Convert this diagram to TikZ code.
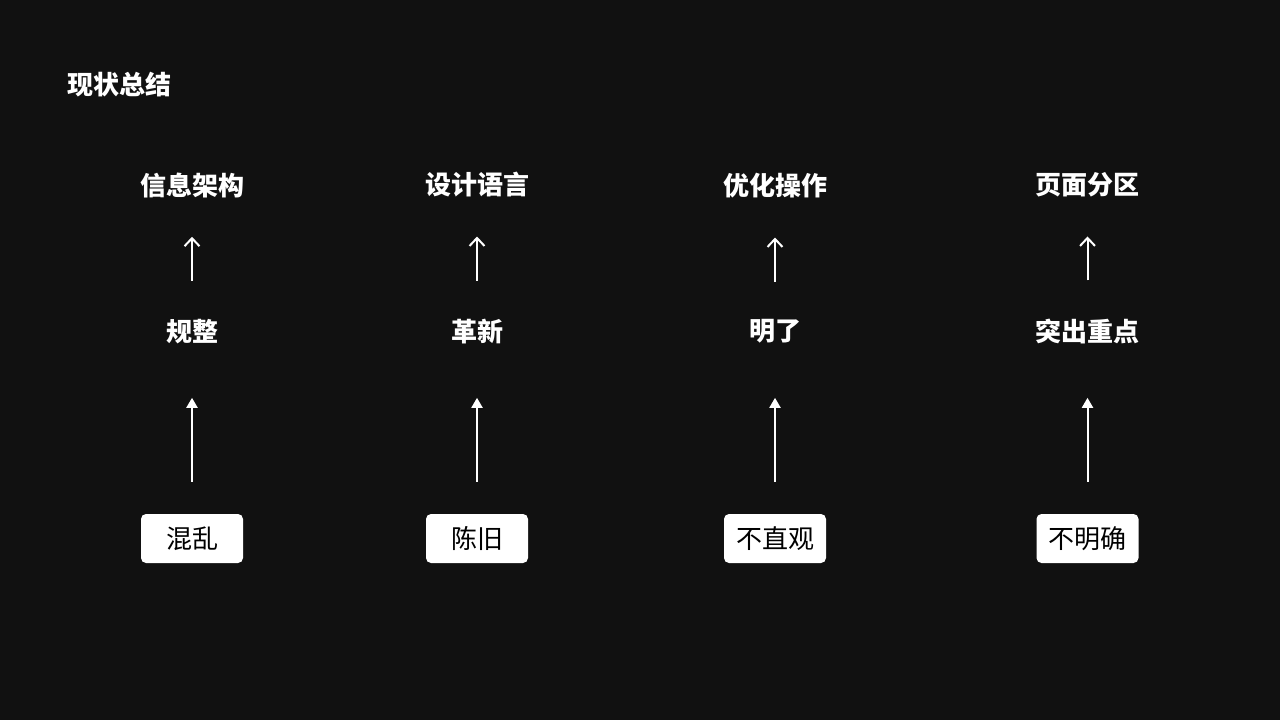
\documentclass[tikz,border=0pt]{standalone}
\usepackage{fontspec}
\setmainfont{Noto Sans CJK SC}
\usepackage{tikz}
\usetikzlibrary{arrows.meta, positioning}
\definecolor{bgdark}{HTML}{111111}

\begin{document}
\begin{tikzpicture}[x=1pt, y=-1pt,
    node distance=170pt,
    every node/.style={inner sep=0pt, text=white, font=\fontsize{26}{31}\selectfont},
    goal/.style={font=\fontsize{26}{31}\selectfont\bfseries},
    quality/.style={font=\fontsize{26}{31}\selectfont\bfseries},
    problem/.style={fill=white, text=black, rounded corners=5pt, minimum width=102pt, minimum height=49pt},
    liftarrow/.style={draw=white, line width=2pt, -{Triangle[width=11pt, length=10pt]}, shorten <=32pt, shorten >=54pt},
    aimarrow/.style={draw=white, line width=2pt, -{Straight Barb[width=15pt, length=8pt]}, shorten <=38pt, shorten >=39pt}
    ]

    \fill [bgdark] (0,0) rectangle (1280,720);
    \node (title) [anchor=west, font=\fontsize{26}{31}\selectfont\bfseries] at (67,85) {现状总结};

    \node (p1) [problem] at (192,538.5) {混乱};
    \node (q1) [quality, above=of p1] {规整};
    \node (g1) [goal, above=121pt of q1] {信息架构};

    \node (p2) [problem] at (477,538.5) {陈旧};
    \node (q2) [quality, above=of p2] {革新};
    \node (g2) [goal, above=121pt of q2] {设计语言};

    \node (p3) [problem] at (775,538.5) {不直观};
    \node (q3) [quality, above=of p3] {明了};
    \node (g3) [goal, above=121pt of q3] {优化操作};

    \node (p4) [problem] at (1087.5,538.5) {不明确};
    \node (q4) [quality, above=of p4] {突出重点};
    \node (g4) [goal, above=121pt of q4] {页面分区};

    \draw [liftarrow] (p1) -- (q1);
    \draw [aimarrow] (q1) -- (g1);
    \draw [liftarrow] (p2) -- (q2);
    \draw [aimarrow] (q2) -- (g2);
    \draw [liftarrow] (p3) -- (q3);
    \draw [aimarrow] (q3) -- (g3);
    \draw [liftarrow] (p4) -- (q4);
    \draw [aimarrow] (q4) -- (g4);

\end{tikzpicture}
\end{document}
